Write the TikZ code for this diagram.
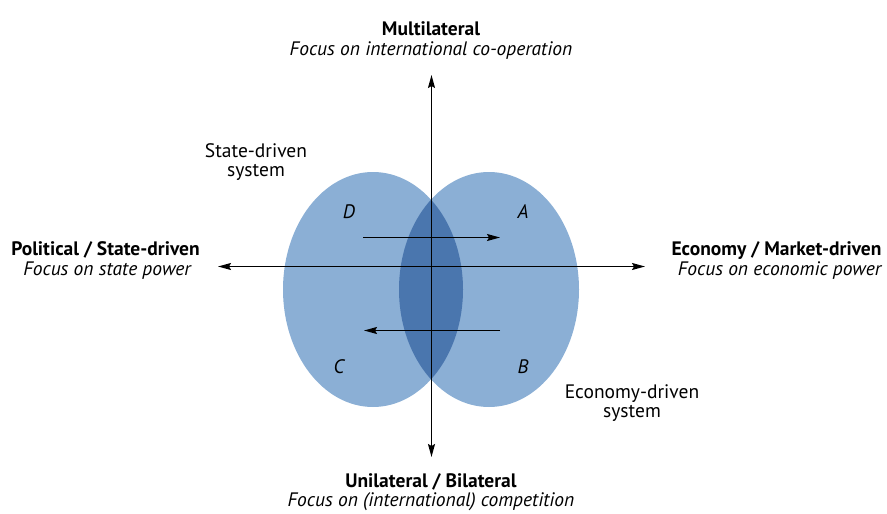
\documentclass[tikz,border=0pt]{standalone}
\usepackage{fontspec}
\setmainfont{PT Sans}
\definecolor{c8BAFD5}{RGB}{139,175,213}
\definecolor{c4A76AE}{RGB}{74,118,174}
\usetikzlibrary{arrows.meta}
\tikzset{
  axisline/.style={draw=black,line width=1.4pt,{Stealth[length=13pt,width=7pt,inset=2pt]}-{Stealth[length=13pt,width=7pt,inset=2pt]}},
  shiftline/.style={draw=black,line width=1.4pt,-{Stealth[length=13pt,width=7pt,inset=2pt]}},
  headtxt/.style={anchor=base,font=\fontsize{19.5}{23}\selectfont\bfseries},
  subtxt/.style={anchor=base,font=\fontsize{19.5}{23}\selectfont\itshape},
  systxt/.style={anchor=base,font=\fontsize{19.5}{23}\selectfont},
  quadtxt/.style={font=\fontsize{19.5}{23}\selectfont\itshape}
}
\begin{document}
\begin{tikzpicture}[y=1pt,x=1pt,yscale=-1, inner sep=0pt, outer sep=0pt]
    \useasboundingbox (0,0) rectangle (887,514);
    % the two systems
    \path[fill=c8BAFD5] (373,289.5) ellipse [x radius=90, y radius=117.5];
    \path[fill=c8BAFD5] (489,289.5) ellipse [x radius=90, y radius=117.5];
    \begin{scope}
      \clip (373,289.5) ellipse [x radius=90, y radius=117.5];
      \path[fill=c4A76AE] (489,289.5) ellipse [x radius=90, y radius=117.5];
    \end{scope}
    % axes
    \coordinate (axtop) at (431.5,75);
    \coordinate (axbot) at (431.5,457);
    \coordinate (axleft) at (218,266.5);
    \coordinate (axright) at (645,266.5);
    \path[axisline] (axleft) -- (axright);
    \path[axisline] (axbot) -- (axtop);
    % shifts between quadrants
    \coordinate (dstart) at (363,237.5);
    \coordinate (aend) at (500,237.5);
    \coordinate (bstart) at (500,330.5);
    \coordinate (cend) at (364,330.5);
    \path[shiftline] (dstart) -- (aend);
    \path[shiftline] (bstart) -- (cend);
    % quadrant letters
    \node[quadtxt] (qd) at (349,212) {D};
    \node[quadtxt] (qa) at (523,212) {A};
    \node[quadtxt] (qc) at (339,367) {C};
    \node[quadtxt] (qb) at (523,367) {B};
    % axis labels
    \node[headtxt] (multi) at (431,35) {Multilateral};
    \node[subtxt] (multisub) at (431,55) {Focus on international co-operation};
    \node[headtxt] (uni) at (431,487) {Unilateral / Bilateral};
    \node[subtxt] (unisub) at (431,506) {Focus on (international) competition};
    \node[headtxt] (pol) at (105.5,255) {Political / State-driven};
    \node[subtxt] (polsub) at (107,275) {Focus on state power};
    \node[headtxt] (eco) at (776.5,255) {Economy / Market-driven};
    \node[subtxt] (ecosub) at (779.5,275) {Focus on economic power};
    % system labels
    \node[systxt] (statesys) at (256,157) {State-driven};
    \node[systxt] (statesys2) at (256,176) {system};
    \node[systxt] (ecosys) at (632,398) {Economy-driven};
    \node[systxt] (ecosys2) at (632,417) {system};
\end{tikzpicture}
\end{document}
